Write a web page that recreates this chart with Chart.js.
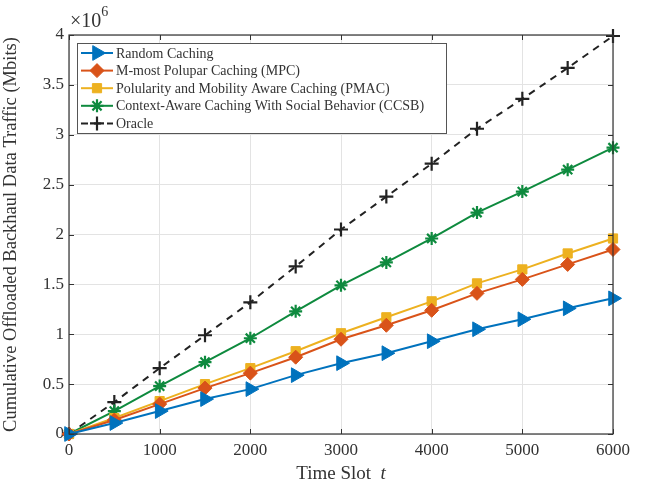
<!DOCTYPE html>
<html>
<head>
<meta charset="utf-8">
<script src="https://cdn.jsdelivr.net/npm/chart.js@4/dist/chart.umd.min.js"></script>
<style>
  html, body { margin: 0; padding: 0; background: #fff; }
  #wrap { width: 648px; height: 487px; }
</style>
</head>
<body>
<div id="wrap"><canvas id="trafficChart" width="648" height="487"></canvas></div>
<script>
'use strict';

// 時間スロット
const timeSlots = [0, 500, 1000, 1500, 2000, 2500, 3000, 3500, 4000, 4500, 5000, 5500, 6000];
// 各手法の累積オフロード量（×10^6 Mbits）
const randomCaching = [0, 0.11, 0.23, 0.35, 0.45, 0.59, 0.71, 0.81, 0.93, 1.05, 1.15, 1.26, 1.36];
const mpcCaching = [0, 0.14, 0.30, 0.46, 0.61, 0.77, 0.95, 1.09, 1.24, 1.41, 1.55, 1.70, 1.85];
const pmacCaching = [0, 0.16, 0.33, 0.50, 0.66, 0.83, 1.01, 1.17, 1.33, 1.51, 1.65, 1.81, 1.96];
const ccsbCaching = [0, 0.23, 0.48, 0.72, 0.96, 1.23, 1.49, 1.72, 1.96, 2.22, 2.43, 2.65, 2.87];
const oracle = [0, 0.32, 0.66, 0.99, 1.32, 1.68, 2.05, 2.38, 2.71, 3.06, 3.36, 3.67, 3.99];
// 目盛り
const xTicks = [0, 1000, 2000, 3000, 4000, 5000, 6000];
const yTicks = [0, 0.5, 1, 1.5, 2, 2.5, 3, 3.5, 4];
// 凡例ラベル
const seriesNames = [
    'Random Caching',
    'M-most Polupar Caching (MPC)',
    'Polularity and Mobility Aware Caching (PMAC)',
    'Context-Aware Caching With Social Behavior (CCSB)',
    'Oracle'
];

const FONT = '"Liberation Serif", "Times New Roman", serif';

/**
 * データセット生成
 */
function createSeries(label, values, color, style, radius, rotation, dash) {
    return {
        label: label,
        data: values.map((v, i) => ({ x: timeSlots[i], y: v })),
        borderColor: color,
        backgroundColor: color,
        borderWidth: 2,
        borderDash: dash || [],
        pointStyle: style,
        pointRadius: radius,
        pointRotation: rotation || 0,
        pointBorderWidth: style === 'star' || style === 'cross' ? 2.2 : 1,
        pointBorderColor: color,
        pointBackgroundColor: color,
        clip: false,
        tension: 0
    };
}

const datasets = [
    createSeries(seriesNames[0], randomCaching, '#0072BD', 'triangle', 8.5, 90),
    createSeries(seriesNames[1], mpcCaching, '#D95319', 'rectRot', 7),
    createSeries(seriesNames[2], pmacCaching, '#EDB120', 'rect', 6.5),
    createSeries(seriesNames[3], ccsbCaching, '#0E8A3E', 'star', 6.5),
    createSeries(seriesNames[4], oracle, '#222222', 'cross', 7, 0, [7, 6])
];

// 枠・内向き目盛り・凡例・指数表記を描くプラグイン
const decorPlugin = {
    id: 'decor',
    afterDraw(chart) {
        const ctx = chart.ctx;
        const a = chart.chartArea;
        const xs = chart.scales.x;
        const ys = chart.scales.y;
        ctx.save();
        // 内向き目盛り
        ctx.strokeStyle = '#333';
        ctx.lineWidth = 1;
        ctx.beginPath();
        xTicks.forEach(t => {
            const px = Math.round(xs.getPixelForValue(t)) + 0.5;
            ctx.moveTo(px, a.bottom); ctx.lineTo(px, a.bottom - 5);
            ctx.moveTo(px, a.top); ctx.lineTo(px, a.top + 5);
        });
        yTicks.forEach(t => {
            const py = Math.round(ys.getPixelForValue(t)) + 0.5;
            ctx.moveTo(a.left, py); ctx.lineTo(a.left + 5, py);
            ctx.moveTo(a.right, py); ctx.lineTo(a.right - 5, py);
        });
        ctx.stroke();
        // 外枠
        ctx.strokeStyle = '#333';
        ctx.lineWidth = 1.2;
        ctx.strokeRect(a.left, a.top, a.right - a.left, a.bottom - a.top);

        // 指数表記
        ctx.fillStyle = '#333';
        ctx.textBaseline = 'alphabetic';
        ctx.textAlign = 'left';
        ctx.font = '20px ' + FONT;
        ctx.fillText('\u00d710', a.left + 1, a.top - 8);
        const w = ctx.measureText('\u00d710').width;
        ctx.font = '14px ' + FONT;
        ctx.fillText('6', a.left + 1 + w, a.top - 19);

        // x軸タイトル
        ctx.font = '19px ' + FONT;
        const base = 'Time Slot  ';
        const bw = ctx.measureText(base).width;
        ctx.font = 'italic 19px ' + FONT;
        const tw = ctx.measureText('t').width;
        const cx = (a.left + a.right) / 2;
        const sx = cx - (bw + tw) / 2;
        ctx.font = '19px ' + FONT;
        ctx.fillText(base, sx, 479);
        ctx.font = 'italic 19px ' + FONT;
        ctx.fillText('t', sx + bw, 479);

        // 凡例
        const lx = a.left + 8, ly = a.top + 8, lw = 369, lh = 90;
        ctx.fillStyle = '#fff';
        ctx.fillRect(lx, ly, lw, lh);
        ctx.strokeStyle = '#555';
        ctx.lineWidth = 1;
        ctx.strokeRect(lx + 0.5, ly + 0.5, lw, lh);
        ctx.font = '14px ' + FONT;
        ctx.textBaseline = 'middle';
        chart.data.datasets.forEach((ds, i) => {
            const y = ly + 10 + i * 17.6;
            ctx.strokeStyle = ds.borderColor;
            ctx.lineWidth = 2;
            ctx.setLineDash(ds.borderDash);
            ctx.beginPath();
            ctx.moveTo(lx + 4, y);
            ctx.lineTo(lx + 36, y);
            ctx.stroke();
            ctx.setLineDash([]);
            ctx.fillStyle = ds.pointBackgroundColor;
            ctx.strokeStyle = ds.pointBorderColor;
            ctx.lineWidth = ds.pointBorderWidth;
            Chart.helpers.drawPoint(ctx, {
                pointStyle: ds.pointStyle,
                radius: ds.pointRadius,
                rotation: ds.pointRotation,
                borderWidth: ds.pointBorderWidth
            }, lx + 20, y);
            ctx.fillStyle = '#333';
            ctx.fillText(ds.label, lx + 39, y + 1);
        });
        ctx.restore();
    }
};

const ctxEl = document.getElementById('trafficChart');
const trafficChart = new Chart(ctxEl, {
    type: 'line',
    data: { datasets: datasets },
    options: {
        responsive: false,
        animation: false,
        layout: { padding: { top: 35, right: 35, left: 0, bottom: 0 } },
        plugins: {
            legend: { display: false },
            tooltip: { enabled: false }
        },
        scales: {
            x: {
                type: 'linear',
                min: 0,
                max: 6000,
                afterBuildTicks: scale => { scale.ticks = xTicks.map(v => ({ value: v })); },
                afterFit: scale => { scale.height = 53; },
                grid: { color: '#e3e3e3', drawTicks: false },
                border: { display: false },
                ticks: {
                    color: '#333',
                    padding: 6,
                    font: { family: FONT, size: 17 },
                    maxRotation: 0,
                    callback: v => String(v)
                }
            },
            y: {
                min: 0,
                max: 4,
                afterBuildTicks: scale => { scale.ticks = yTicks.map(v => ({ value: v })); },
                afterFit: scale => { scale.width = 69; },
                grid: { color: '#e3e3e3', drawTicks: false },
                border: { display: false },
                title: {
                    display: true,
                    text: 'Cumulative Offloaded Backhaul Data Traffic (Mbits)',
                    color: '#333',
                    font: { family: FONT, size: 18.5 },
                    padding: { top: 0, bottom: 4 }
                },
                ticks: {
                    color: '#333',
                    padding: 5,
                    font: { family: FONT, size: 17 },
                    callback: v => String(v)
                }
            }
        }
    },
    plugins: [decorPlugin]
});
</script>
</body>
</html>
